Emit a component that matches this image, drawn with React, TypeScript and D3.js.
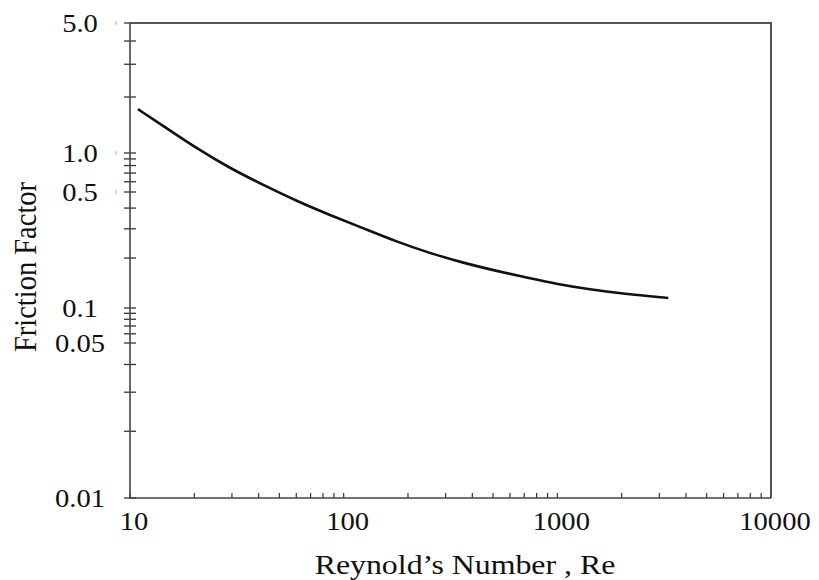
import { useEffect, useRef } from "react";
import * as d3 from "d3";

// Reynolds number vs friction factor
const reynolds = [10.9, 14.3, 20.5, 29.4, 42.1, 60.3, 86.3, 124, 177, 253, 363, 520, 745, 993, 1422, 2037, 3305];
const friction = [1.72, 1.4, 1.06, 0.762, 0.566, 0.441, 0.363, 0.302, 0.251, 0.214, 0.187, 0.167, 0.151, 0.1395, 0.1293, 0.1218, 0.115];

const xTickLabels = [10, 100, 1000, 10000];
const yTickLabels = ["0.01", "0.05", "0.1", "0.5", "1.0", "5.0"];
const yMarked = ["0.5", "1.0", "5.0"];

const W = 819;
const H = 580;
const serif = "'Liberation Serif', 'Times New Roman', serif";

export default function App() {
  const ref = useRef<SVGSVGElement>(null);

  useEffect(() => {
    const svg = d3.select(ref.current);
    svg.selectAll("*").remove();

    const x = d3.scaleLog().domain([10, 10000]).range([130, 771]);
    // the original y axis is uneven, so the scale is piecewise log through the labelled values
    const y = d3
      .scaleLog()
      .domain(yTickLabels.map(Number))
      .range([498, 343, 308, 192, 153, 23]);

    // y minor ticks (cross the axis)
    svg
      .append("g")
      .selectAll("line")
      .data(y.ticks())
      .join("line")
      .attr("x1", 124)
      .attr("x2", 136)
      .attr("y1", (d) => y(d))
      .attr("y2", (d) => y(d))
      .attr("stroke", "#333")
      .attr("stroke-width", 1.3);

    // x minor ticks (pointing up)
    svg
      .append("g")
      .selectAll("line")
      .data(x.ticks())
      .join("line")
      .attr("x1", (d) => x(d))
      .attr("x2", (d) => x(d))
      .attr("y1", 498)
      .attr("y2", 493)
      .attr("stroke", "#333")
      .attr("stroke-width", 1.2);

    // frame
    svg
      .append("path")
      .attr("d", "M130,23H771V498")
      .attr("fill", "none")
      .attr("stroke", "#555")
      .attr("stroke-width", 2);
    svg
      .append("path")
      .attr("d", "M130,23V498H771")
      .attr("fill", "none")
      .attr("stroke", "#444")
      .attr("stroke-width", 1.6);

    // faint blue marks left of some labels
    svg
      .append("g")
      .selectAll("line")
      .data(yMarked)
      .join("line")
      .attr("x1", 116)
      .attr("x2", 116)
      .attr("y1", (d) => y(+d) - 2)
      .attr("y2", (d) => y(+d) + 2)
      .attr("stroke", "#8fc8ef")
      .attr("stroke-width", 1.2);

    // y labels
    svg
      .append("g")
      .selectAll("text")
      .data(yTickLabels)
      .join("text")
      .attr("transform", (d) => `translate(80,${y(+d) + 9}) scale(1.1,1)`)
      .attr("text-anchor", "middle")
      .attr("font-family", serif)
      .attr("font-size", 26)
      .attr("fill", "#111")
      .text((d) => d);

    // x labels
    svg
      .append("g")
      .selectAll("text")
      .data(xTickLabels)
      .join("text")
      .attr("transform", (d) => `translate(${x(d) + 4},530) scale(1.1,1)`)
      .attr("text-anchor", "middle")
      .attr("font-family", serif)
      .attr("font-size", 26)
      .attr("fill", "#111")
      .text((d) => String(d));

    // axis titles
    svg
      .append("text")
      .attr("transform", "translate(465,574) scale(1.18,1)")
      .attr("text-anchor", "middle")
      .attr("font-family", serif)
      .attr("font-size", 27)
      .attr("fill", "#111")
      .text("Reynold\u2019s Number , Re");
    svg
      .append("text")
      .attr("transform", "translate(36,267) rotate(-90) scale(1,1.1)")
      .attr("text-anchor", "middle")
      .attr("font-family", serif)
      .attr("font-size", 28.5)
      .attr("fill", "#111")
      .text("Friction Factor");

    // the curve
    const line = d3
      .line<number>()
      .x((d, i) => x(reynolds[i]))
      .y((d) => y(d))
      .curve(d3.curveBasis);
    svg
      .append("path")
      .datum(friction)
      .attr("d", line)
      .attr("fill", "none")
      .attr("stroke", "#111")
      .attr("stroke-width", 2.6);
  }, []);

  return (
    <svg
      ref={ref}
      width={W}
      height={H}
      style={{ position: "absolute", left: 0, top: 0, background: "#fff" }}
    />
  );
}
